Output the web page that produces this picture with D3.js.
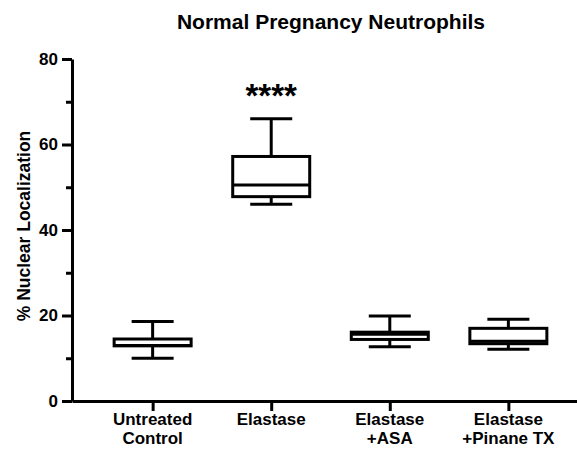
<!DOCTYPE html>
<html>
<head>
<meta charset="utf-8">
<script src="https://cdn.jsdelivr.net/npm/d3@7"></script>
<style>
  body { margin: 0; background: #fff; }
  svg { font-family: "Liberation Sans", Arial, sans-serif; }
</style>
</head>
<body>
<div id="graph"></div>
<script>
// groups and their box stats
var groups = ["Untreated Control", "Elastase", "Elastase +ASA", "Elastase +Pinane TX"];
var labelLines = [["Untreated", "Control"], ["Elastase"], ["Elastase", "+ASA"], ["Elastase", "+Pinane TX"]];
var whiskerMin = [10.0, 46.0, 12.7, 12.1];
var q1 = [12.9, 47.8, 14.4, 13.4];
var median = [13.0, 50.5, 15.6, 14.0];
var q3 = [14.5, 57.2, 16.1, 17.0];
var whiskerMax = [18.6, 66.0, 19.9, 19.1];
var stars = ["", "****", "", ""];
var yTicks = [0, 20, 40, 60, 80];
var yMinorTicks = [10, 30, 50, 70];

var width = 577, height = 452;
var margin = {top: 59, left: 72, bottom: 51};

var svg = d3.select("#graph").append("svg")
    .attr("width", width)
    .attr("height", height);

var y = d3.scaleLinear().domain([0, 80]).range([height - margin.bottom, margin.top]);
var x = d3.scalePoint().domain(groups).range([margin.left, 589]).padding(0.68);

var boxW = 77, capW = 42;

// title
svg.append("text")
    .attr("x", 331)
    .attr("y", 29)
    .attr("text-anchor", "middle")
    .style("font-size", "21px")
    .style("font-weight", "bold")
    .text("Normal Pregnancy Neutrophils");

// y axis
var yAxis = svg.append("g")
    .attr("transform", "translate(" + margin.left + ",0)")
    .call(d3.axisLeft(y).tickValues(yTicks).tickSize(10).tickSizeOuter(0).tickPadding(4));
yAxis.selectAll("text").style("font-size", "17px").style("font-weight", "bold").attr("fill", "#000");

svg.append("g")
    .attr("transform", "translate(" + margin.left + ",0)")
    .call(d3.axisLeft(y).tickValues(yMinorTicks).tickSize(6).tickSizeOuter(0).tickFormat(""))
    .select(".domain").remove();

// x axis
var xAxis = svg.append("g")
    .attr("transform", "translate(0," + y(0) + ")")
    .call(d3.axisBottom(x).tickSize(10).tickSizeOuter(0).tickFormat(""));

svg.selectAll(".domain, .tick line")
    .attr("stroke", "#000")
    .attr("stroke-width", 3);

// x labels, two lines
groups.forEach(function (g, i) {
    var t = svg.append("text")
        .attr("text-anchor", "middle")
        .attr("x", x(g))
        .attr("y", 425)
        .style("font-size", "17px")
        .style("font-weight", "bold");
    labelLines[i].forEach(function (line, j) {
        t.append("tspan").attr("x", x(g)).attr("dy", j === 0 ? 0 : 19).text(line);
    });
});

// y label
svg.append("text")
    .attr("transform", "translate(30," + ((y(0) + y(80)) / 2 - 4) + ") rotate(-90)")
    .attr("text-anchor", "middle")
    .style("font-size", "17.5px")
    .style("font-weight", "bold")
    .text("% Nuclear Localization");

// boxes
var box = svg.append("g").attr("stroke", "#000").attr("stroke-width", 3).attr("fill", "none");
groups.forEach(function (g, i) {
    var cx = x(g);
    box.append("line").attr("x1", cx).attr("x2", cx).attr("y1", y(whiskerMax[i])).attr("y2", y(q3[i]));
    box.append("line").attr("x1", cx).attr("x2", cx).attr("y1", y(q1[i])).attr("y2", y(whiskerMin[i]));
    box.append("line").attr("x1", cx - capW / 2).attr("x2", cx + capW / 2).attr("y1", y(whiskerMax[i])).attr("y2", y(whiskerMax[i]));
    box.append("line").attr("x1", cx - capW / 2).attr("x2", cx + capW / 2).attr("y1", y(whiskerMin[i])).attr("y2", y(whiskerMin[i]));
    box.append("rect")
        .attr("x", cx - boxW / 2)
        .attr("y", y(q3[i]))
        .attr("width", boxW)
        .attr("height", y(q1[i]) - y(q3[i]))
        .attr("fill", "#fff");
    box.append("line").attr("x1", cx - boxW / 2).attr("x2", cx + boxW / 2).attr("y1", y(median[i])).attr("y2", y(median[i]));

    if (stars[i]) {
        svg.append("text")
            .attr("x", cx)
            .attr("y", y(whiskerMax[i]) - 12)
            .attr("text-anchor", "middle")
            .style("font-size", "33px")
            .style("font-weight", "bold")
            .text(stars[i]);
    }
});
</script>
</body>
</html>
